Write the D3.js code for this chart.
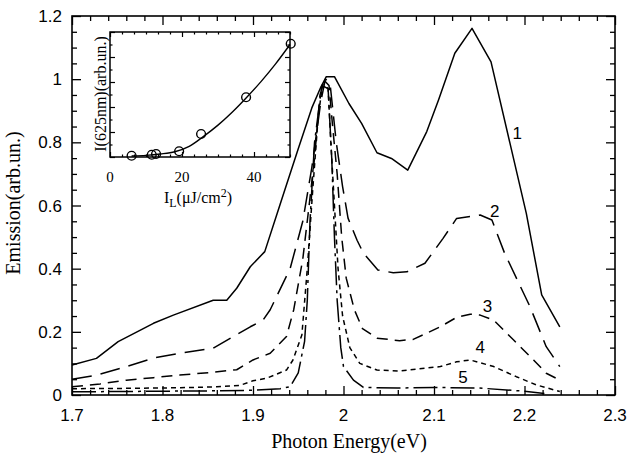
<!DOCTYPE html>
<html>
<head>
<meta charset="utf-8">
<script src="https://cdn.jsdelivr.net/npm/d3@7"></script>
<style>
  html, body { margin: 0; padding: 0; background: #fff; }
  svg { display: block; }
</style>
</head>
<body>
<svg id="chart" width="629" height="453"></svg>
<script>
// ---------------- DATA ----------------
const xTickLabels = [1.7, 1.8, 1.9, 2.0, 2.1, 2.2, 2.3];
const yTickLabels = [0, 0.2, 0.4, 0.6, 0.8, 1.0, 1.2];

// Curve 1 (solid)
const e1 = [1.700,1.727,1.751,1.790,1.812,1.856,1.871,1.882,1.897,1.913,1.930,1.950,1.965,1.975,1.981,1.990,2.006,2.020,2.037,2.053,2.071,2.092,2.105,2.123,2.142,2.163,2.202,2.219,2.239];
const v1 = [0.095,0.116,0.169,0.227,0.253,0.300,0.300,0.338,0.406,0.454,0.604,0.780,0.909,0.975,1.008,1.008,0.923,0.860,0.767,0.749,0.712,0.834,0.934,1.082,1.161,1.055,0.575,0.317,0.216];

// Curve 2 (long dash)
const e2 = [1.700,1.727,1.760,1.790,1.819,1.856,1.878,1.897,1.911,1.919,1.941,1.955,1.965,1.975,1.980,1.985,1.992,1.999,2.005,2.015,2.022,2.038,2.055,2.070,2.090,2.110,2.125,2.151,2.164,2.178,2.206,2.224,2.239];
const v2 = [0.050,0.063,0.090,0.117,0.132,0.148,0.185,0.216,0.237,0.270,0.400,0.550,0.720,0.930,1.000,0.990,0.800,0.660,0.560,0.490,0.449,0.396,0.387,0.390,0.417,0.496,0.559,0.570,0.554,0.449,0.280,0.153,0.090];

// Curve 3 (medium dash)
const e3 = [1.700,1.731,1.760,1.790,1.819,1.856,1.882,1.900,1.919,1.937,1.945,1.955,1.962,1.968,1.974,1.979,1.984,1.988,1.993,1.998,2.003,2.012,2.021,2.037,2.062,2.077,2.107,2.125,2.140,2.151,2.166,2.188,2.210,2.224,2.239];
const v3 = [0.026,0.035,0.047,0.055,0.063,0.072,0.080,0.111,0.132,0.185,0.270,0.430,0.600,0.750,0.950,0.995,0.980,0.850,0.700,0.500,0.370,0.270,0.210,0.180,0.172,0.176,0.216,0.246,0.256,0.253,0.237,0.174,0.111,0.069,0.047];

// Curve 4 (short dash)
const e4 = [1.700,1.760,1.820,1.860,1.885,1.900,1.915,1.937,1.944,1.954,1.960,1.966,1.972,1.977,1.983,1.986,1.990,1.994,1.999,2.007,2.018,2.037,2.062,2.107,2.125,2.140,2.166,2.191,2.213,2.239];
const v4 = [0.020,0.021,0.023,0.026,0.030,0.045,0.053,0.079,0.110,0.190,0.400,0.650,0.880,0.985,0.970,0.800,0.600,0.400,0.250,0.150,0.100,0.079,0.076,0.090,0.105,0.111,0.090,0.058,0.032,0.011];

// Curve 5 (dash-dot)
const e5 = [1.700,1.800,1.850,1.900,1.930,1.941,1.950,1.957,1.960,1.963,1.968,1.976,1.983,1.987,1.990,1.993,1.997,2.000,2.011,2.022,2.060,2.100,2.150,2.200,2.222];
const v5 = [0.010,0.012,0.013,0.015,0.020,0.026,0.070,0.170,0.300,0.550,0.800,0.980,0.970,0.750,0.500,0.300,0.150,0.090,0.047,0.024,0.022,0.024,0.022,0.012,0.005];

const curveNames = ["1", "2", "3", "4", "5"];

// Inset: I(625nm) vs I_L
const insetX = [6.0, 11.6, 12.8, 19.2, 25.3, 37.8, 50.2];
const insetY = [0.010, 0.018, 0.024, 0.046, 0.184, 0.478, 0.906];
const fitX = [6, 10, 14, 18, 22, 26, 30, 34, 38, 42, 46, 50];
const fitY = [0.008, 0.013, 0.024, 0.042, 0.085, 0.165, 0.255, 0.360, 0.478, 0.605, 0.745, 0.900];
const insetXTickLabels = [0, 20, 40];

// ---------------- DRAW ----------------
const SANS = "'Liberation Sans', Arial, Helvetica, sans-serif";
const SERIF = "'Liberation Serif', 'Times New Roman', serif";
const svg = d3.select("#chart");
const L = 72, R = 615, T = 16, B = 395;
const x = d3.scaleLinear().domain([1.7, 2.3]).range([L, R]);
const y = d3.scaleLinear().domain([0, 1.2]).range([B, T]);

const g = svg.append("g");

g.append("rect").attr("x", L).attr("y", T).attr("width", R - L).attr("height", B - T)
  .attr("fill", "none").attr("stroke", "#000").attr("stroke-width", 1.6);

const xMinor = d3.range(1.7, 2.3001, 0.02);
const yMinor = d3.range(0, 1.2001, 0.05);
function isMajor(v, step) { return Math.abs(v / step - Math.round(v / step)) < 1e-6; }

function styleAxis(sel, step, len) {
  sel.select(".domain").remove();
  sel.selectAll(".tick line").attr("stroke", "#000").attr("stroke-width", 1.3)
    .each(function(d) {
      if (isMajor(d, step)) {
        const l = d3.select(this);
        if (l.attr("y2") !== null) l.attr("y2", +l.attr("y2") * len / 5);
        if (l.attr("x2") !== null) l.attr("x2", +l.attr("x2") * len / 5);
      }
    });
}
styleAxis(g.append("g").attr("transform", `translate(0,${B})`).call(d3.axisBottom(x).tickValues(xMinor).tickSize(-5).tickFormat("")), 0.1, 9);
styleAxis(g.append("g").attr("transform", `translate(0,${T})`).call(d3.axisTop(x).tickValues(xMinor).tickSize(-5).tickFormat("")), 0.1, 9);
styleAxis(g.append("g").attr("transform", `translate(${L},0)`).call(d3.axisLeft(y).tickValues(yMinor).tickSize(-5).tickFormat("")), 0.2, 9);
styleAxis(g.append("g").attr("transform", `translate(${R},0)`).call(d3.axisRight(y).tickValues(yMinor).tickSize(-5).tickFormat("")), 0.2, 9);

g.selectAll(".xl").data(xTickLabels).enter().append("text")
  .attr("font-family", SANS).attr("x", d => x(d)).attr("y", B + 26)
  .attr("text-anchor", "middle").attr("font-size", 17)
  .text(d => d === 2 ? "2" : d3.format(".1f")(d));
g.selectAll(".yl").data(yTickLabels).enter().append("text")
  .attr("font-family", SANS).attr("x", L - 10).attr("y", d => y(d) + 6)
  .attr("text-anchor", "end").attr("font-size", 17)
  .text(d => (d === 0 ? "0" : d === 1 ? "1" : d3.format(".1f")(d)));

g.append("text").attr("font-family", SERIF).attr("x", 349).attr("y", 448)
  .attr("text-anchor", "middle").attr("font-size", 20).text("Photon Energy(eV)");
g.append("text").attr("font-family", SERIF)
  .attr("transform", "translate(20,203) rotate(-90)")
  .attr("text-anchor", "middle").attr("font-size", 20).text("Emission(arb.un.)");

const line = d3.line().x(d => x(d[0])).y(d => y(d[1]));
const series = [
  { e: e1, v: v1, dash: null },
  { e: e2, v: v2, dash: "20,9" },
  { e: e3, v: v3, dash: "11,7" },
  { e: e4, v: v4, dash: "5,4" },
  { e: e5, v: v5, dash: "24,5,3,5" }
];
series.forEach(s => {
  g.append("path").datum(d3.zip(s.e, s.v)).attr("d", line)
    .attr("fill", "none").attr("stroke", "#000").attr("stroke-width", 1.5)
    .attr("stroke-linejoin", "round")
    .attr("stroke-dasharray", s.dash);
});

const labelPos = [[2.192, 0.829], [2.167, 0.583], [2.159, 0.282], [2.151, 0.152], [2.132, 0.057]];
g.selectAll(".cl").data(curveNames).enter().append("text")
  .attr("font-family", SANS).attr("font-size", 17).attr("text-anchor", "middle")
  .attr("x", (d, i) => x(labelPos[i][0])).attr("y", (d, i) => y(labelPos[i][1]) + 6)
  .text(d => d);

// ---------------- INSET ----------------
const iL = 110, iR = 290, iT = 32, iB = 157;
const ix = d3.scaleLinear().domain([0, 50]).range([iL, iR]);
const iy = d3.scaleLinear().domain([0, 1]).range([iB, iT]);
const ig = svg.append("g");
ig.append("rect").attr("x", iL).attr("y", iT).attr("width", iR - iL).attr("height", iB - iT)
  .attr("fill", "#fff").attr("stroke", "#000").attr("stroke-width", 1.5);

const ixMinor = d3.range(0, 50.001, 10 / 3);
const iyMinor = d3.range(0, 1.0001, 0.1);
function insetAxis(axis, tr, step) {
  const s = ig.append("g").attr("transform", tr).call(axis);
  s.select(".domain").remove();
  s.selectAll(".tick line").attr("stroke", "#000").attr("stroke-width", 1.2)
    .each(function(d) {
      if (isMajor(d, step)) {
        const l = d3.select(this);
        if (l.attr("y2") !== null) l.attr("y2", +l.attr("y2") * 2);
        if (l.attr("x2") !== null) l.attr("x2", +l.attr("x2") * 2);
      }
    });
}
insetAxis(d3.axisBottom(ix).tickValues(ixMinor).tickSize(-2.5).tickFormat(""), `translate(0,${iB})`, 20);
insetAxis(d3.axisTop(ix).tickValues(ixMinor).tickSize(-2.5).tickFormat(""), `translate(0,${iT})`, 20);
insetAxis(d3.axisLeft(iy).tickValues(iyMinor).tickSize(-2.5).tickFormat(""), `translate(${iL},0)`, 0.2);
insetAxis(d3.axisRight(iy).tickValues(iyMinor).tickSize(-2.5).tickFormat(""), `translate(${iR},0)`, 0.2);

ig.selectAll(".ixl").data(insetXTickLabels).enter().append("text")
  .attr("font-family", SERIF).attr("font-size", 15).attr("text-anchor", "middle")
  .attr("x", d => ix(d)).attr("y", iB + 25).text(d => d);

const fitLine = d3.line().x(d => ix(d[0])).y(d => iy(d[1])).curve(d3.curveMonotoneX);
ig.append("path").datum(d3.zip(fitX, fitY)).attr("d", fitLine)
  .attr("fill", "none").attr("stroke", "#000").attr("stroke-width", 1.4);
ig.selectAll(".pt").data(d3.zip(insetX, insetY)).enter().append("circle")
  .attr("cx", d => ix(d[0])).attr("cy", d => iy(d[1])).attr("r", 4.4)
  .attr("fill", "none").attr("stroke", "#000").attr("stroke-width", 1.4);

const ixt = ig.append("text").attr("font-family", SERIF).attr("font-size", 16)
  .attr("text-anchor", "middle").attr("x", 198).attr("y", 203);
ixt.append("tspan").text("I");
ixt.append("tspan").attr("font-size", 12).attr("dy", 4).text("L");
ixt.append("tspan").attr("dy", -4).text("(\u03bcJ/cm");
ixt.append("tspan").attr("font-size", 12).attr("dy", -6).text("2");
ixt.append("tspan").attr("dy", 6).text(")");

ig.append("text").attr("font-family", SERIF).attr("font-size", 16)
  .attr("text-anchor", "middle").attr("transform", "translate(106,94) rotate(-90)")
  .text("I(625nm)(arb.un.)");
</script>
</body>
</html>
